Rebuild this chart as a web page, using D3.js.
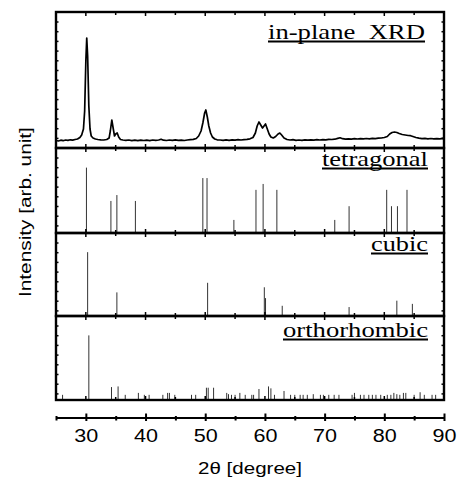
<!DOCTYPE html>
<html>
<head>
<meta charset="utf-8">
<script src="https://cdn.jsdelivr.net/npm/d3@7"></script>
<style>
  body { margin: 0; background: #fff; }
  text { white-space: pre; }
</style>
</head>
<body>
<svg id="chart" width="462" height="481"></svg>
<script>
// measured in-plane XRD pattern (2theta, intensity)
const xrdAngle = [25.0,25.4,25.8,26.2,26.6,27.0,27.4,27.8,28.2,28.6,29.0,29.3,29.6,29.8,30.0,30.15,30.3,30.5,30.7,30.9,
  31.2,31.6,32.0,32.5,33.0,33.5,33.9,34.1,34.35,34.6,34.8,35.0,35.25,35.5,35.8,36.2,36.7,37.2,37.7,38.2,
  38.7,39.2,39.7,40.2,40.7,41.2,41.7,42.2,42.6,43.0,43.5,44.0,44.5,45.0,45.5,46.0,46.5,47.0,47.5,48.0,
  48.5,48.9,49.3,49.6,49.9,50.1,50.35,50.6,50.9,51.2,51.6,52.0,52.5,53.0,53.5,54.0,54.5,55.0,55.5,56.0,
  56.5,57.0,57.5,58.0,58.4,58.7,59.0,59.3,59.6,59.85,60.1,60.4,60.7,61.0,61.4,61.8,62.2,62.5,62.8,63.2,
  63.7,64.2,64.7,65.2,65.7,66.2,66.7,67.2,67.7,68.2,68.7,69.2,69.7,70.2,70.7,71.2,71.7,72.2,72.6,73.0,
  73.5,74.0,74.5,75.0,75.5,76.0,76.5,77.0,77.5,78.0,78.5,79.0,79.5,80.0,80.5,80.9,81.3,81.7,82.1,82.5,
  83.0,83.5,84.0,84.4,84.8,85.3,85.8,86.3,86.8,87.3,87.8,88.3,88.8,89.3,89.8,90.0];
const xrdIntensity = [0.5,0.0,0.8,0.3,1.0,0.6,1.2,0.9,1.5,2.0,3.5,6,12,30,80,103,85,35,12,5,
  3,2,1.5,1.2,1.0,1.5,3,10,21,12,5,7,8,4,1.5,1.0,0.6,1.0,0.4,0.8,
  0.3,0.9,0.5,0.8,0.4,1.0,0.6,1.0,1.8,0.8,0.5,1.0,0.6,1.1,0.7,0.9,0.5,1.0,1.3,1.6,
  2.5,5,10,18,28,31,24,15,8,4,2,1.2,1.0,0.6,1.1,0.7,1.2,0.8,1.3,1.0,
  1.4,1.6,2.2,3.5,8,15,19,16,13,15,17,12,7,4,3,4.5,7,8,6,3,
  1.5,1.0,1.3,0.7,1.0,0.6,1.1,0.8,1.2,0.9,1.3,1.0,1.4,1.1,1.6,1.5,1.8,2.6,3.2,2.3,
  1.8,2.2,1.9,2.3,2.0,2.4,2.1,2.5,2.2,2.6,2.4,2.8,3.0,3.5,4.5,7,8.5,9,8.5,7.5,
  6.5,6,5.5,5.3,4.5,3.5,2.8,2.3,2.6,2.2,2.5,2.1,2.4,2.2,2.6,2.3];

// reference stick patterns
const tetraAngle = [30.1,34.2,35.2,38.3,49.6,50.3,54.8,58.5,59.7,62.0,71.7,74.1,80.4,81.2,82.2,83.8];
const tetraIntensity = [100,49,58,49,84,84,20,66,75,66,20,41,66,41,41,66];

const cubicAngle = [30.3,35.2,50.4,59.9,60.1,62.9,74.1,82.1,84.7];
const cubicIntensity = [100,37,52,45,28,16,14,24,19];

const orthoAngle = [26.1,30.5,34.3,35.4,36.6,38.8,39.8,40.6,42.9,43.7,44.0,44.9,47.7,48.4,50.2,50.5,51.4,
  53.6,53.9,54.4,55.0,55.8,56.7,57.8,58.1,59.0,60.6,61.0,61.6,63.2,64.3,65.0,65.9,66.4,67.1,68.1,
  69.3,69.8,70.7,71.6,72.4,74.6,75.0,76.0,76.6,77.4,78.0,78.6,79.4,80.5,81.1,81.6,82.1,82.6,83.2,
  83.6,85.0,86.0,86.7,88.0,88.6];
const orthoIntensity = [8,100,20,21,8,11,8,8,8,11,11,8,8,8,19,19,19,
  11,9,8,8,11,8,8,8,17,21,18,8,14,8,8,8,8,8,9,
  8,8,8,8,8,8,11,8,8,8,8,8,8,8,8,11,9,8,11,
  11,8,12,8,8,8];

const xTickValues = [25,30,35,40,45,50,55,60,65,70,75,80,85,90];
const panelLabels = ["in-plane  XRD", "tetragonal", "cubic", "orthorhombic"];

const svg = d3.select("#chart");
const x = d3.scaleLinear().domain([25, 90]).range([56, 444]);

const serif = "Liberation Serif, Times New Roman, serif";
const sans = "Liberation Sans, Arial, sans-serif";

// stretch a text horizontally so it spans the given width
function fitText(t, width, anchor) {
  t.attr("text-anchor", "start").attr("x", 0).attr("y", 0);
  const w = t.node().getComputedTextLength();
  const s = width / w;
  const tx = +t.attr("data-x"), ty = +t.attr("data-y");
  let x0 = tx;
  if (anchor == "end") x0 = tx - width;
  if (anchor == "middle") x0 = tx - width / 2;
  t.attr("transform", "translate(" + x0 + "," + ty + ") scale(" + s + ",1)");
}

// panel layout
const panels = [
  {top: 12, bottom: 148, domain: [-7, 129], labelEnd: 425, labelLen: 157, base: 39, fs: 21},
  {top: 148, bottom: 233, domain: [0, 130], labelEnd: 428, labelLen: 106, base: 166, fs: 20},
  {top: 233, bottom: 316, domain: [0, 130], labelEnd: 428, labelLen: 57, base: 251, fs: 20},
  {top: 316, bottom: 400, domain: [0, 130], labelEnd: 428, labelLen: 145, base: 337, fs: 20}
];
panels.forEach(p => {
  p.y = d3.scaleLinear().domain(p.domain).range([p.bottom, p.top]);
});

// measured curve
const xrd = xrdAngle.map((a, i) => [a, xrdIntensity[i]]);
const line = d3.line().x(d => x(d[0])).y(d => panels[0].y(d[1]));
svg.append("path")
  .datum(xrd)
  .attr("d", line)
  .attr("fill", "none")
  .attr("stroke", "#000")
  .attr("stroke-width", 1.7)
  .attr("stroke-linejoin", "round");

// sticks
function drawSticks(p, angles, values) {
  svg.append("g").selectAll("line")
    .data(angles.map((a, i) => [a, values[i]]))
    .join("line")
    .attr("x1", d => x(d[0]))
    .attr("x2", d => x(d[0]))
    .attr("y1", p.y(0))
    .attr("y2", d => p.y(d[1]))
    .attr("stroke", "#333")
    .attr("stroke-width", 1);
}
drawSticks(panels[1], tetraAngle, tetraIntensity);
drawSticks(panels[2], cubicAngle, cubicIntensity);
drawSticks(panels[3], orthoAngle, orthoIntensity);

// frames + inward ticks
panels.forEach((p, i) => {
  const g = svg.append("g");
  g.selectAll(".tt")
    .data(xTickValues)
    .join("line")
    .attr("x1", d => x(d)).attr("x2", d => x(d))
    .attr("y1", p.top).attr("y2", d => p.top + (d % 10 == 0 ? 4 : 3))
    .attr("stroke", "#000").attr("stroke-width", 1.5);
  g.selectAll(".bt")
    .data(xTickValues)
    .join("line")
    .attr("x1", d => x(d)).attr("x2", d => x(d))
    .attr("y1", p.bottom).attr("y2", d => p.bottom - (d % 10 == 0 ? 4 : 3))
    .attr("stroke", "#000").attr("stroke-width", 1.5);
  const sideTicks = d3.range(p.top + 10, p.bottom - 3, 9.7);
  [[56, 1], [444, -1]].forEach(([sx, dir]) => {
    g.append("g").selectAll("line")
      .data(sideTicks)
      .join("line")
      .attr("x1", sx).attr("x2", sx + dir * 2.5)
      .attr("y1", d => d).attr("y2", d => d)
      .attr("stroke", "#000").attr("stroke-width", 1.5);
  });
  g.append("rect")
    .attr("x", 56).attr("y", p.top)
    .attr("width", 388).attr("height", p.bottom - p.top)
    .attr("fill", "none")
    .attr("stroke", "#000")
    .attr("stroke-width", 2.4);

  // label with underline
  const t = g.append("text")
    .attr("data-x", p.labelEnd)
    .attr("data-y", p.base)
    .style("font-family", serif)
    .style("font-size", p.fs + "px")
    .text(panelLabels[i]);
  fitText(t, p.labelLen, "end");
  g.append("line")
    .attr("x1", p.labelEnd - p.labelLen).attr("x2", p.labelEnd)
    .attr("y1", p.base + 2.5).attr("y2", p.base + 2.5)
    .attr("stroke", "#000").attr("stroke-width", 2);
});

// separate bottom axis
const axisY = 418;
const axis = svg.append("g")
  .attr("transform", "translate(0," + axisY + ")")
  .call(d3.axisBottom(x).tickValues(xTickValues).tickSize(0)
        .tickFormat(d => d % 10 == 0 ? d : ""));
axis.select(".domain").attr("stroke-width", 2).attr("d", "M56,0H444");
axis.selectAll(".tick").append("line")
  .attr("y1", d => d % 10 == 0 ? -4.5 : -2)
  .attr("y2", d => d % 10 == 0 ? 3 : 2.5)
  .attr("stroke", "#000")
  .attr("stroke-width", 2);
axis.selectAll(".tick text").each(function(d) {
  const t = d3.select(this)
    .attr("dy", null)
    .attr("data-x", 0).attr("data-y", 24)
    .style("font-family", sans)
    .style("font-size", "19px")
    .attr("fill", "#000");
  if (d % 10 == 0) fitText(t, 24, "middle");
});

// axis titles
const xt = svg.append("text")
  .attr("data-x", 250).attr("data-y", 474)
  .style("font-family", sans)
  .style("font-size", "17px")
  .text("2θ [degree]");
fitText(xt, 104, "middle");

const yt = svg.append("g").attr("transform", "translate(31,212) rotate(-90)")
  .append("text")
  .attr("data-x", 0).attr("data-y", 0)
  .style("font-family", sans)
  .style("font-size", "17px")
  .text("Intensity [arb. unit]");
fitText(yt, 170, "middle");
</script>
</body>
</html>
